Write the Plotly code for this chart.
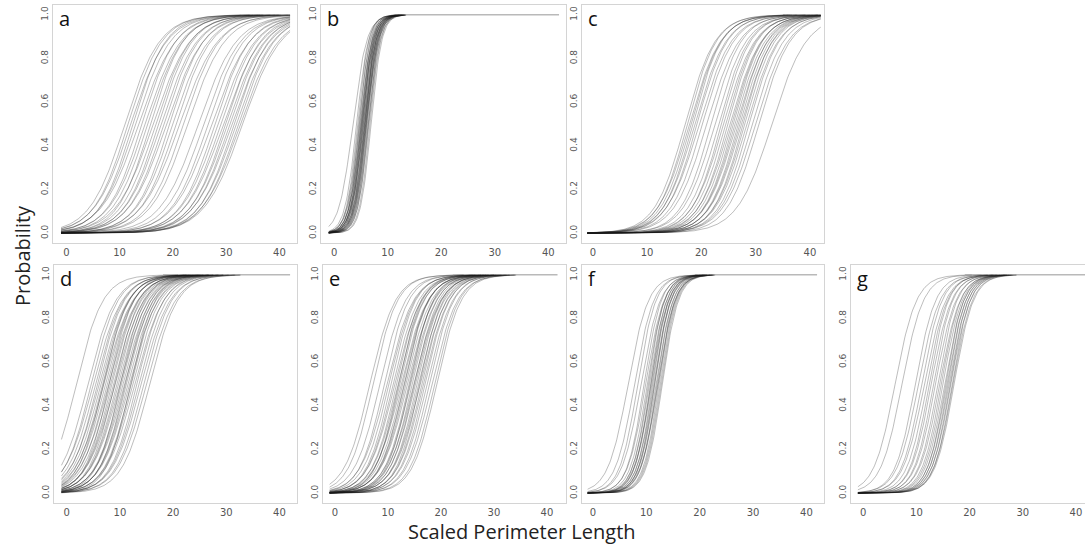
import numpy as np
import plotly.graph_objects as go

# ---- data: logistic curves (midpoint x where p=0.5, and scale) ----
panel_labels = ["a", "b", "c", "d", "e", "f", "g"]

a_mid = [11.0, 11.6, 12.1, 12.5, 13.0, 13.6, 14.2, 14.8, 15.3, 15.8, 16.3, 16.8, 17.3, 17.8,
         18.3, 18.8, 19.4, 20.0, 20.6, 21.3, 22.0, 22.8, 24.8, 25.8, 26.6, 27.3, 27.9, 28.5,
         29.0, 29.5, 29.9, 30.3, 30.7, 31.1, 31.5, 31.9, 32.3, 32.7, 33.1]
a_scale = [3.3, 3.2, 3.4, 3.1, 3.3, 3.5, 3.2, 3.4, 3.3, 3.1, 3.5, 3.3, 3.2, 3.4,
           3.3, 3.5, 3.2, 3.4, 3.3, 3.6, 3.4, 3.5, 3.6, 3.5, 3.4, 3.6, 3.3, 3.5,
           3.4, 3.6, 3.3, 3.5, 3.4, 3.6, 3.3, 3.5, 3.4, 3.6, 3.6]

b_mid = [3.5, 4.2, 4.4, 4.6, 4.7, 4.8, 4.9, 5.0, 5.05, 5.1, 5.2, 5.25, 5.3, 5.4, 5.45, 5.5,
         5.6, 5.65, 5.7, 5.8, 5.85, 5.9, 6.0, 6.05, 6.1, 6.2, 6.3, 6.4, 6.5, 6.7, 6.9]
b_scale = [1.3, 1.1, 1.05, 1.1, 1.0, 1.15, 1.05, 1.1, 1.0, 1.15, 1.05, 1.1, 1.0, 1.1, 1.05, 1.15,
           1.0, 1.1, 1.05, 1.0, 1.1, 1.05, 1.0, 1.1, 1.05, 1.0, 1.05, 1.0, 1.05, 1.0, 1.0]

c_mid = [17.0, 17.4, 17.8, 18.1, 18.4, 18.8, 19.2, 19.6, 20.2, 21.0, 21.8, 22.5, 23.2, 23.7,
         24.1, 24.5, 24.9, 25.3, 25.6, 25.9, 26.2, 26.5, 26.8, 27.1, 27.4, 27.7, 28.0, 28.4,
         28.8, 29.4, 30.0, 30.6, 33.0]
c_scale = [2.8, 2.7, 2.9, 2.8, 2.7, 2.9, 2.8, 3.0, 2.9, 3.0, 2.8, 2.9, 2.8, 2.7,
           2.9, 2.8, 2.7, 2.9, 2.8, 2.7, 2.8, 2.9, 2.7, 2.8, 2.9, 2.7, 2.8, 2.9,
           2.8, 2.9, 3.0, 2.9, 3.2]

d_mid = [1.8, 4.0, 4.6, 5.0, 5.4, 5.8, 6.1, 6.4, 6.7, 7.0, 7.3, 7.6, 7.9, 8.2, 8.5, 8.8,
         9.1, 9.4, 9.7, 10.0, 10.3, 10.6, 10.9, 11.2, 11.5, 11.8, 12.1, 12.4, 12.8, 13.2,
         13.6, 14.0, 14.5, 15.0, 15.6, 6.9, 8.0, 9.0, 10.1, 11.0, 12.0]
d_scale = [2.5, 2.6, 2.5, 2.7, 2.6, 2.5, 2.7, 2.6, 2.5, 2.7, 2.6, 2.5, 2.7, 2.6, 2.5, 2.6,
           2.7, 2.5, 2.6, 2.7, 2.5, 2.6, 2.7, 2.5, 2.6, 2.7, 2.5, 2.6, 2.7, 2.5,
           2.6, 2.7, 2.6, 2.7, 2.6, 2.4, 2.3, 2.4, 2.3, 2.4, 2.3]

e_mid = [6.6, 7.2, 8.5, 9.3, 9.8, 10.2, 10.6, 11.0, 11.3, 11.6, 11.9, 12.2, 12.5, 12.8,
         13.1, 13.4, 13.7, 14.0, 14.3, 14.6, 14.9, 15.2, 15.5, 15.8, 16.1, 16.4, 16.7,
         17.0, 17.4, 17.8, 18.3, 18.8, 19.2, 12.0, 13.0, 14.1, 15.0, 16.0]
e_scale = [2.4, 2.3, 2.4, 2.3, 2.5, 2.4, 2.3, 2.4, 2.5, 2.3, 2.4, 2.3, 2.5, 2.4,
           2.3, 2.4, 2.5, 2.3, 2.4, 2.3, 2.5, 2.4, 2.3, 2.4, 2.5, 2.3, 2.4,
           2.3, 2.4, 2.3, 2.4, 2.3, 2.3, 2.2, 2.3, 2.2, 2.3, 2.2]

f_mid = [6.6, 7.8, 8.4, 9.0, 9.6, 9.9, 10.2, 10.4, 10.6, 10.8, 11.0, 11.2, 11.4, 11.6,
         11.8, 12.0, 12.2, 12.4, 12.6, 12.8, 13.0, 10.9, 11.5, 12.1]
f_scale = [1.9, 1.8, 1.7, 1.8, 1.6, 1.7, 1.6, 1.5, 1.6, 1.5, 1.6, 1.5, 1.6, 1.5,
           1.6, 1.5, 1.6, 1.5, 1.5, 1.5, 1.5, 1.6, 1.5, 1.6]

g_mid = [6.0, 7.3, 9.8, 10.4, 11.0, 11.5, 12.0, 12.4, 12.8, 13.2, 13.6, 14.0, 14.4, 14.7,
         15.0, 15.3, 15.5, 15.7, 15.9, 16.1, 16.3, 16.5, 16.7, 16.9, 17.1]
g_scale = [2.0, 2.0, 1.9, 2.0, 1.9, 2.0, 1.9, 1.8, 1.9, 1.8, 1.9, 1.8, 1.9, 1.8,
           1.8, 1.8, 1.7, 1.8, 1.7, 1.8, 1.7, 1.8, 1.7, 1.8, 1.8]

x_start, x_end = -1, 42
y_ticks = [0.0, 0.2, 0.4, 0.6, 0.8, 1.0]
y_tick_text = ["0.0", "0.2", "0.4", "0.6", "0.8", "1.0"]
x_ticks = [0, 10, 20, 30, 40]

mids = [a_mid, b_mid, c_mid, d_mid, e_mid, f_mid, g_mid]
scales = [a_scale, b_scale, c_scale, d_scale, e_scale, f_scale, g_scale]

# ---- layout geometry (pixels) ----
W, H = 1085, 548
frames = [(53, 297, 5, 243), (321, 566, 5, 243), (582, 824, 5, 243),
          (54, 297, 265, 503), (323, 566, 265, 503), (582, 824, 265, 503), (851, 1085, 265, 503)]
x_ranges = [(-2.5, 43.3), (-2.45, 43.3), (-2.0, 42.6), (-2.4, 43.3), (-2.25, 43.6), (-2.05, 43.3), (-2.3, 41.7)]
y_range = (-0.045, 1.045)

xs = np.linspace(x_start, x_end, 260)
top_cut = 0.9985  # above this the curves lie on the plateau, drawn once

fig = go.Figure()
line_color = "rgba(25,25,25,0.36)"
plateau_color = "rgba(25,25,25,0.5)"

for i, (mid_list, sc_list) in enumerate(zip(mids, scales)):
    ax = "" if i == 0 else str(i + 1)
    first_plateau = None
    for m, s in zip(mid_list, sc_list):
        ys = 1.0 / (1.0 + np.exp(-(xs - m) / s))
        keep = ys <= top_cut
        # include first point above the cut so the curve joins the plateau
        idx = np.where(~keep)[0]
        if len(idx):
            keep[idx[0]] = True
            xp = xs[idx[0]]
            first_plateau = xp if first_plateau is None else min(first_plateau, xp)
        fig.add_trace(go.Scatter(x=xs[keep], y=ys[keep], mode="lines",
                                 line=dict(color=line_color, width=0.8),
                                 xaxis="x" + ax, yaxis="y" + ax,
                                 showlegend=False, hoverinfo="skip"))
    if first_plateau is not None:
        px = xs[xs >= first_plateau]
        fig.add_trace(go.Scatter(x=px, y=np.ones_like(px), mode="lines",
                                 line=dict(color=plateau_color, width=0.9),
                                 xaxis="x" + ax, yaxis="y" + ax,
                                 showlegend=False, hoverinfo="skip"))

layout = dict(width=W, height=H, margin=dict(l=0, r=0, t=0, b=0),
              paper_bgcolor="white", plot_bgcolor="white", showlegend=False)

annotations = []
for i, (l, r, t, b) in enumerate(frames):
    ax = "" if i == 0 else str(i + 1)
    layout["xaxis" + ax] = dict(
        domain=[l / W, min(r / W, 1.0)], anchor="y" + ax, range=list(x_ranges[i]),
        showline=True, mirror=True, linecolor="#d4d4d4", linewidth=1,
        showgrid=False, zeroline=False, ticks="", tickvals=x_ticks,
        tickfont=dict(family="DejaVu Sans", size=10, color="#555555"))
    layout["yaxis" + ax] = dict(
        domain=[1 - b / H, 1 - t / H], anchor="x" + ax, range=list(y_range),
        showline=True, mirror=True, linecolor="#d4d4d4", linewidth=1,
        showgrid=False, zeroline=False, ticks="", tickvals=y_ticks, ticktext=y_tick_text,
        tickangle=-90, tickfont=dict(family="DejaVu Sans", size=9, color="#555555"))
    annotations.append(dict(text=panel_labels[i], xref="paper", yref="paper",
                            x=(l + 4) / W, y=1 - (t - 2) / H, xanchor="left", yanchor="top",
                            showarrow=False,
                            font=dict(family="Open Sans", size=20, color="#111111")))

annotations.append(dict(text="Probability", xref="paper", yref="paper",
                        x=22 / W, y=1 - 256 / H, textangle=-90, showarrow=False,
                        xanchor="center", yanchor="middle",
                        font=dict(family="Open Sans", size=20, color="#222222")))
annotations.append(dict(text="Scaled Perimeter Length", xref="paper", yref="paper",
                        x=522 / W, y=1 - 531 / H, showarrow=False,
                        xanchor="center", yanchor="middle",
                        font=dict(family="Open Sans", size=20, color="#222222")))
layout["annotations"] = annotations

fig.update_layout(**layout)
fig.write_html("out.html")
